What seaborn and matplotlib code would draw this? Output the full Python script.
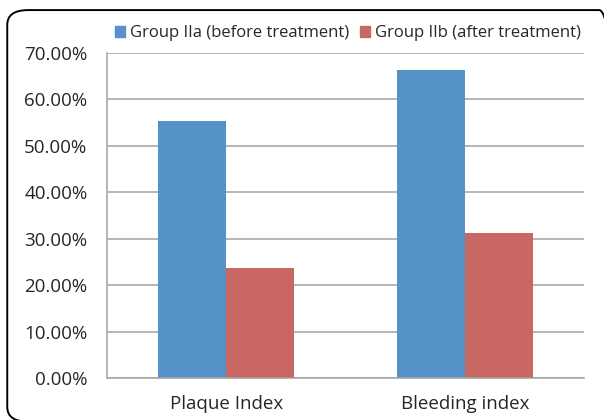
import matplotlib
matplotlib.use("Agg")
import matplotlib.pyplot as plt
import pandas as pd
import seaborn as sns
from matplotlib.patches import FancyBboxPatch
from matplotlib.ticker import PercentFormatter, FixedLocator

# Data
categories = ["Plaque Index", "Bleeding index"]
groups = ["Group IIa (before treatment)", "Group IIb (after treatment)"]
before = [55.4, 66.4]
after = [23.7, 31.3]

df = pd.DataFrame({
    "index": categories * 2,
    "group": [groups[0]] * 2 + [groups[1]] * 2,
    "value": before + after,
})

sns.set_style("white")
plt.rcParams['font.family'] = ['Open Sans', 'DejaVu Sans']

fig = plt.figure(figsize=(6.04, 4.2), dpi=100)
ax = fig.add_axes([0.177, 0.1, 0.79, 0.774])

palette = ["#5592C8", "#C96862"]
sns.barplot(data=df, x="index", y="value", hue="group", palette=palette,
            width=0.57, saturation=1, ax=ax, legend=False, linewidth=0)

ax.set_ylim(0, 70)
ax.set_xlim(-0.5, 1.5)
ax.set_yticks(range(0, 71, 10))
ax.yaxis.set_major_formatter(PercentFormatter(decimals=2))
ax.grid(axis="y", color="#A3A3A3", linewidth=1.1)
ax.set_axisbelow(True)
ax.set_xlabel("")
ax.set_ylabel("")
for s in ["top", "right"]:
    ax.spines[s].set_visible(False)
for s in ["left", "bottom"]:
    ax.spines[s].set_color("#A3A3A3")
    ax.spines[s].set_linewidth(1.1)

ax.tick_params(axis="y", which="major", length=5, color="#A3A3A3", labelsize=13.5, pad=9)
ax.tick_params(axis="x", which="major", length=0, labelsize=13.5, pad=12)
ax.xaxis.set_minor_locator(FixedLocator([-0.5, 0.5, 1.5]))
ax.tick_params(axis="x", which="minor", length=5, color="#A3A3A3")

handles = [plt.Rectangle((0, 0), 1, 1, color=c) for c in palette]
fig.legend(handles, groups, loc="center", bbox_to_anchor=(0.576, 0.921), ncol=2,
           frameon=False, fontsize=12, handlelength=0.6, handleheight=0.6,
           handletextpad=0.3, columnspacing=0.7)

# rounded outer frame, cut off at the right and bottom like the source image
frame = FancyBboxPatch((0.012, -0.004), 1.015, 0.98, boxstyle="round,pad=0,rounding_size=0.035",
                       transform=fig.transFigure, fill=False, edgecolor="black",
                       linewidth=1.4, clip_on=False)
fig.patches.append(frame)

fig.savefig("out.png", dpi=100)
